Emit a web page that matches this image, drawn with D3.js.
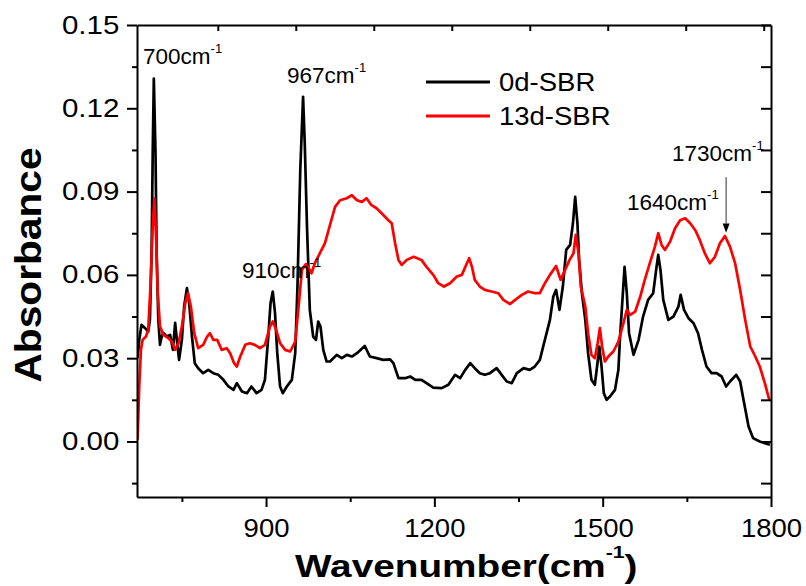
<!DOCTYPE html>
<html><head><meta charset="utf-8">
<script src="https://cdn.jsdelivr.net/npm/d3@7/dist/d3.min.js"></script>
<style>
body{margin:0;background:#fff}
svg{display:block}
text{font-family:"Liberation Sans",Arial,sans-serif;fill:#000}
</style>
</head><body>
<svg id="chart" width="806" height="586"></svg>
<script>
// ---------------- data ----------------
const seriesNames = ["0d-SBR", "13d-SBR"];
const seriesColors = ["#000000", "#ff0000"];

const wn0 = [671,674,678,684,690,693,696,698,700,703,
  705,708,711,714,717,723,729,734,738,741,
  745,750,754,759,763,768,773,779,788,797,
  806,815,824,833,842,848,857,866,874,883,
  892,898,904,908,912,916,920,925,930,937,
  946,952,956,961,966,969,973,978,984,989,
  993,997,1002,1008,1014,1026,1035,1044,1053,1062,
  1076,1085,1097,1109,1121,1127,1136,1148,1157,1166,
  1177,1186,1198,1213,1225,1237,1246,1255,1264,1272,
  1281,1290,1299,1311,1320,1329,1338,1347,1359,1370,
  1379,1388,1394,1400,1406,1412,1417,1423,1429,1435,
  1442,1447,1451,1455,1458,1463,1469,1474,1480,1486,
  1490,1494,1498,1502,1507,1513,1522,1528,1531,1536,
  1539,1543,1547,1555,1564,1572,1581,1590,1596,1599,
  1603,1608,1617,1626,1635,1639,1645,1653,1662,1670,
  1677,1685,1694,1703,1712,1720,1727,1738,1745,1751,
  1760,1768,1780,1789,1798];
const abs0 = [0.0300,0.0366,0.0420,0.0409,0.0396,0.0438,0.0679,0.1038,0.1307,0.1038,
  0.0679,0.0438,0.0348,0.0378,0.0391,0.0378,0.0384,0.0330,0.0427,0.0366,
  0.0294,0.0366,0.0486,0.0552,0.0498,0.0378,0.0282,0.0264,0.0246,0.0258,
  0.0246,0.0240,0.0222,0.0198,0.0186,0.0210,0.0180,0.0174,0.0198,0.0174,
  0.0186,0.0222,0.0378,0.0498,0.0540,0.0462,0.0318,0.0198,0.0174,0.0198,
  0.0222,0.0318,0.0558,0.0977,0.1241,0.1073,0.0773,0.0474,0.0378,0.0366,
  0.0432,0.0414,0.0330,0.0288,0.0288,0.0312,0.0300,0.0312,0.0306,0.0318,
  0.0344,0.0306,0.0300,0.0294,0.0296,0.0282,0.0228,0.0228,0.0234,0.0222,
  0.0222,0.0210,0.0194,0.0192,0.0204,0.0240,0.0228,0.0258,0.0282,0.0264,
  0.0246,0.0240,0.0246,0.0264,0.0240,0.0216,0.0210,0.0246,0.0264,0.0258,
  0.0270,0.0294,0.0342,0.0390,0.0438,0.0522,0.0546,0.0474,0.0558,0.0690,
  0.0708,0.0786,0.0881,0.0786,0.0654,0.0534,0.0438,0.0318,0.0222,0.0204,
  0.0270,0.0342,0.0270,0.0174,0.0150,0.0162,0.0186,0.0258,0.0378,0.0534,
  0.0629,0.0534,0.0390,0.0312,0.0366,0.0450,0.0510,0.0534,0.0629,0.0672,
  0.0618,0.0510,0.0438,0.0450,0.0486,0.0528,0.0474,0.0444,0.0426,0.0390,
  0.0330,0.0270,0.0246,0.0246,0.0234,0.0198,0.0216,0.0240,0.0216,0.0150,
  0.0054,0.0012,0.0000,-0.0006,-0.0012];

const wn13 = [671,674,677,680,686,690,694,698,701,704,
  707,711,717,726,732,738,744,750,756,761,
  766,772,779,788,795,800,806,813,821,830,
  836,843,848,854,863,871,880,889,898,907,
  912,918,925,934,943,952,958,964,971,978,
  981,987,996,1005,1013,1023,1032,1044,1053,1062,
  1071,1079,1088,1097,1106,1118,1124,1130,1136,1142,
  1151,1163,1177,1186,1198,1207,1217,1228,1240,1249,
  1258,1262,1267,1272,1281,1290,1302,1314,1323,1335,
  1344,1356,1367,1379,1388,1397,1406,1417,1425,1433,
  1441,1448,1452,1457,1461,1469,1474,1480,1486,1491,
  1495,1499,1504,1510,1519,1528,1537,1543,1549,1558,
  1567,1575,1584,1593,1599,1605,1611,1620,1629,1638,
  1647,1656,1665,1673,1682,1691,1700,1709,1718,1727,
  1736,1745,1754,1763,1772,1780,1789,1797];
const abs13 = [0.0006,0.0198,0.0330,0.0366,0.0378,0.0402,0.0558,0.0773,0.0876,0.0737,
  0.0534,0.0414,0.0384,0.0372,0.0360,0.0330,0.0354,0.0414,0.0498,0.0534,
  0.0486,0.0390,0.0336,0.0348,0.0378,0.0390,0.0366,0.0366,0.0330,0.0336,
  0.0318,0.0282,0.0270,0.0306,0.0348,0.0354,0.0348,0.0336,0.0348,0.0414,
  0.0432,0.0402,0.0354,0.0330,0.0324,0.0360,0.0486,0.0618,0.0639,0.0618,
  0.0606,0.0642,0.0678,0.0714,0.0773,0.0845,0.0869,0.0876,0.0887,0.0869,
  0.0863,0.0876,0.0851,0.0840,0.0822,0.0797,0.0786,0.0714,0.0654,0.0636,
  0.0654,0.0665,0.0654,0.0629,0.0600,0.0570,0.0558,0.0570,0.0594,0.0600,
  0.0642,0.0660,0.0629,0.0582,0.0558,0.0546,0.0540,0.0534,0.0510,0.0495,
  0.0510,0.0528,0.0540,0.0534,0.0534,0.0570,0.0600,0.0632,0.0582,0.0618,
  0.0654,0.0678,0.0744,0.0678,0.0558,0.0486,0.0390,0.0312,0.0300,0.0354,
  0.0408,0.0342,0.0288,0.0306,0.0324,0.0360,0.0426,0.0474,0.0456,0.0468,
  0.0522,0.0582,0.0642,0.0701,0.0750,0.0708,0.0690,0.0719,0.0768,0.0797,
  0.0804,0.0786,0.0761,0.0726,0.0678,0.0642,0.0665,0.0714,0.0740,0.0701,
  0.0642,0.0546,0.0438,0.0342,0.0306,0.0270,0.0210,0.0150];

const xDomain = [670, 1800];
const yDomain = [-0.02, 0.15];
const xMajorTicks = [900, 1200, 1500, 1800];
const xMinorTicks = [750, 1050, 1350, 1650];
const xTopTicks = [814, 953, 1092, 1231, 1370, 1509, 1648, 1787];
const yMajorTicks = [0.00, 0.03, 0.06, 0.09, 0.12, 0.15];
const yMinorTicks = [-0.015, 0.015, 0.045, 0.075, 0.105, 0.135];
const peakLabels = ["700", "967", "910", "1640", "1730"];
const xTitle = "Wavenumber(cm";
const yTitle = "Absorbance";

// ---------------- drawing ----------------
const svg = d3.select("#chart");
const L = 137, R = 771, T = 25, B = 497;
const x = d3.scaleLinear().domain(xDomain).range([L, R]);
const y = d3.scaleLinear().domain(yDomain).range([B, T]);

// curves (red drawn over black, as in the reference)
const line = d3.line().x(d => x(d[0])).y(d => y(d[1]));
svg.append("clipPath").attr("id", "clp").append("rect")
  .attr("x", L).attr("y", T).attr("width", R - L).attr("height", B - T);
const curves = svg.append("g").attr("clip-path", "url(#clp)");
[[wn0, abs0], [wn13, abs13]].forEach((s, i) => {
  const pts = s[0].map((w, k) => [w, s[1][k]]);
  curves.append("path").datum(pts)
    .attr("d", line)
    .attr("fill", "none")
    .attr("stroke", seriesColors[i])
    .attr("stroke-width", 2.7)
    .attr("stroke-linejoin", "round");
});

function styleAxis(g) {
  g.selectAll(".domain").attr("stroke", "#000").attr("stroke-width", 2);
  g.selectAll(".tick line").attr("stroke", "#000").attr("stroke-width", 2);
}

// bottom axis
const gB = svg.append("g").attr("transform", `translate(0,${B})`)
  .call(d3.axisBottom(x).tickValues(xMajorTicks).tickSize(10).tickSizeOuter(0).tickPadding(12).tickFormat(d3.format("d")));
styleAxis(gB);
gB.selectAll(".tick text").attr("font-size", 25).attr("font-family", "Liberation Sans, Arial, sans-serif")
  .attr("transform", "scale(1.1,1)");
const gBm = svg.append("g").attr("transform", `translate(0,${B})`)
  .call(d3.axisBottom(x).tickValues(xMinorTicks).tickSize(5).tickSizeOuter(0).tickFormat(""));
styleAxis(gBm); gBm.select(".domain").remove();

// top axis (ticks inward)
const gT = svg.append("g").attr("transform", `translate(0,${T})`)
  .call(d3.axisBottom(x).tickValues(xTopTicks).tickSize(6).tickSizeOuter(0).tickFormat(""));
styleAxis(gT);

// left axis
const gL = svg.append("g").attr("transform", `translate(${L},0)`)
  .call(d3.axisLeft(y).tickValues(yMajorTicks).tickSize(10).tickSizeOuter(0).tickFormat(d3.format(".2f")));
styleAxis(gL);
gL.selectAll(".tick text").attr("font-size", 25).attr("font-family", "Liberation Sans, Arial, sans-serif")
  .attr("x", -15).attr("transform", "scale(1.18,1)");
const gLm = svg.append("g").attr("transform", `translate(${L},0)`)
  .call(d3.axisLeft(y).tickValues(yMinorTicks).tickSize(5).tickSizeOuter(0).tickFormat(""));
styleAxis(gLm); gLm.select(".domain").remove();

// right axis (ticks inward)
const gR = svg.append("g").attr("transform", `translate(${R},0)`)
  .call(d3.axisLeft(y).tickValues(yMajorTicks.concat(yMinorTicks)).tickSize(10).tickSizeOuter(0).tickFormat(""));
styleAxis(gR);

// axis titles
const xt = svg.append("text").attr("transform", "translate(295,577) scale(1.25,1)")
  .attr("font-size", 31).attr("font-weight", "bold");
xt.append("tspan").text(xTitle);
xt.append("tspan").attr("font-size", 17).attr("dy", -19).text("-1");
xt.append("tspan").attr("dy", 19).text(")");

svg.append("text").attr("transform", "translate(41,265) rotate(-90) scale(1.1,1)")
  .attr("text-anchor", "middle").attr("font-size", 37).attr("font-weight", "bold")
  .text(yTitle);

// legend
const legY = [82, 116];
seriesNames.forEach((n, i) => {
  svg.append("line").attr("x1", 426).attr("x2", 490).attr("y1", legY[i]).attr("y2", legY[i])
    .attr("stroke", seriesColors[i]).attr("stroke-width", 3);
  svg.append("text").attr("transform", `translate(499,${legY[i] + 8.5}) scale(1.1,1)`)
    .attr("font-size", 25).text(n);
});

// peak annotations
const labelPos = [[143, 64], [287, 83], [242, 278], [627, 210], [672, 161]];
peakLabels.forEach((p, i) => {
  const t = svg.append("text").attr("x", labelPos[i][0]).attr("y", labelPos[i][1]).attr("font-size", 22.5);
  t.append("tspan").text(p + "cm");
  t.append("tspan").attr("font-size", 13).attr("dy", -11).text("-1");
});

// arrow to 1730 band
const ax = x(1720);
svg.append("line").attr("x1", ax).attr("x2", ax).attr("y1", y(0.0952)).attr("y2", y(0.0785))
  .attr("stroke", "#333").attr("stroke-width", 1);
svg.append("path")
  .attr("d", `M${ax - 3.5},${y(0.0785)} L${ax + 3.5},${y(0.0785)} L${ax},${y(0.0752)} Z`)
  .attr("fill", "#000");
</script>
</body></html>
